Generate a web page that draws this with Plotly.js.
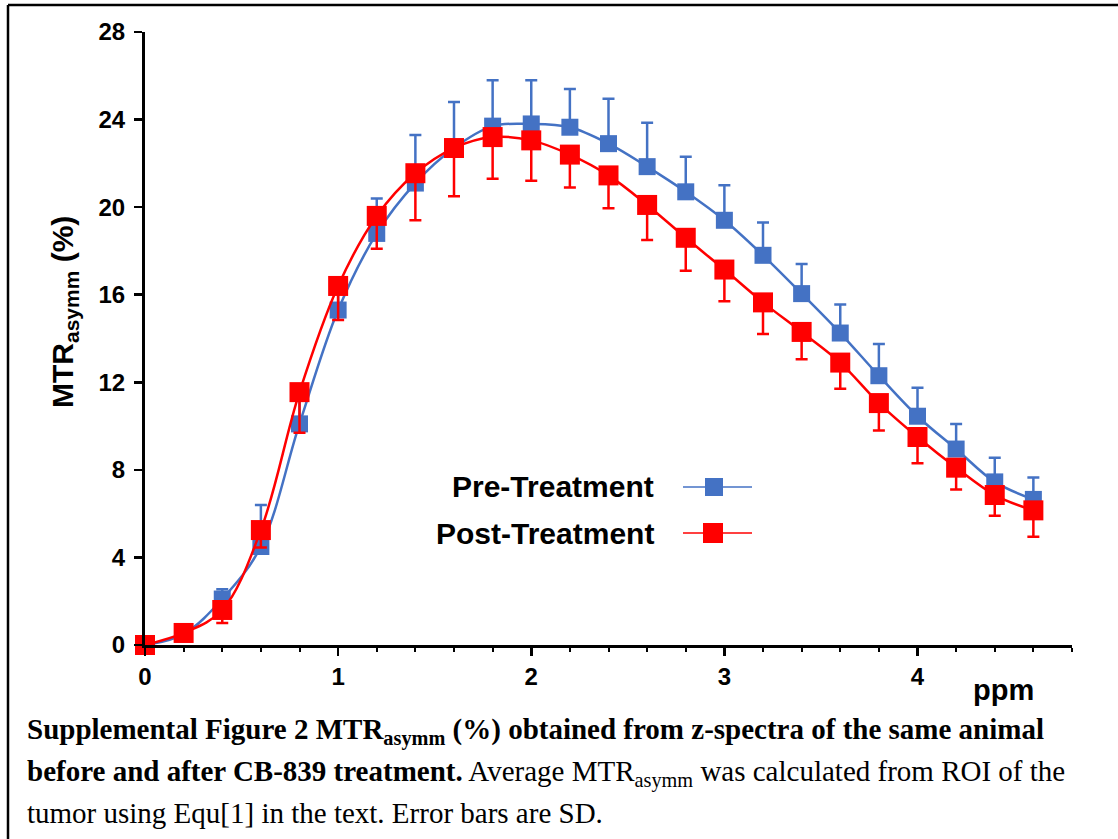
<!DOCTYPE html>
<html>
<head>
<meta charset="utf-8">
<script src="https://cdn.plot.ly/plotly-3.0.1.min.js"></script>
<style>
  html, body { margin: 0; padding: 0; background: #fff; }
  #chart { width: 1118px; height: 839px; }
</style>
</head>
<body>
<div id="chart"></div>
<script>
// ---- data ----
const ppm = [0, 0.2, 0.4, 0.6, 0.8, 1.0, 1.2, 1.4, 1.6, 1.8, 2.0, 2.2, 2.4, 2.6, 2.8, 3.0, 3.2, 3.4, 3.6, 3.8, 4.0, 4.2, 4.4, 4.6];
const preTreatment = [0, 0.5, 2.1, 4.5, 10.1, 15.3, 18.8, 21.1, 22.7, 23.7, 23.8, 23.65, 22.9, 21.85, 20.7, 19.4, 17.8, 16.05, 14.25, 12.3, 10.45, 8.95, 7.45, 6.65];
const preSD = [0, 0.2, 0.45, 1.9, 1.2, 0.9, 1.6, 2.2, 2.1, 2.1, 2.0, 1.75, 2.05, 2.0, 1.6, 1.6, 1.5, 1.35, 1.3, 1.45, 1.3, 1.15, 1.1, 1.0];
const postTreatment = [0, 0.55, 1.6, 5.25, 11.55, 16.4, 19.6, 21.55, 22.7, 23.2, 23.05, 22.4, 21.45, 20.1, 18.6, 17.15, 15.65, 14.3, 12.9, 11.05, 9.5, 8.1, 6.85, 6.15];
const postSD = [0, 0.2, 0.6, 0.8, 1.85, 1.55, 1.5, 2.15, 2.2, 1.9, 1.85, 1.5, 1.5, 1.6, 1.5, 1.45, 1.45, 1.25, 1.2, 1.25, 1.2, 1.0, 0.95, 1.2];
const yTicks = [0, 4, 8, 12, 16, 20, 24, 28];
const xTicks = [0, 1, 2, 3, 4];
const seriesNames = ['Pre-Treatment', 'Post-Treatment'];
const captionLines = [
  '<b>Supplemental Figure 2 MTR<sub>asymm</sub> (%) obtained from z-spectra of the same animal</b>',
  '<b>before and after CB-839 treatment.</b> Average MTR<sub>asymm</sub> was calculated from ROI of the',
  'tumor using Equ[1] in the text. Error bars are SD.'
];

const BLUE = '#4472C4';
const RED = '#FF0000';
const zeros = ppm.map(() => 0);

// plot area in pixels
const W = 1118, H = 839;
const L = 145, R = 46, T = 32, B = 194;
const PW = W - L - R, PH = H - T - B;
const px = v => (v - L) / PW;          // pixel x -> paper
const py = v => (H - B - v) / PH;      // pixel y -> paper

const SANS = 'Liberation Sans, Arial, sans-serif';
const SERIF = 'Liberation Serif, Times New Roman, serif';

const traces = [
  {
    x: ppm, y: preTreatment, name: seriesNames[0], type: 'scatter', mode: 'lines+markers',
    line: { color: BLUE, width: 2.5, shape: 'spline', smoothing: 1 },
    marker: { symbol: 'square', size: 17, color: BLUE },
    error_y: { type: 'data', symmetric: false, array: preSD, arrayminus: zeros,
               color: BLUE, thickness: 2.5, width: 6 },
    cliponaxis: false, showlegend: false
  },
  {
    x: ppm, y: postTreatment, name: seriesNames[1], type: 'scatter', mode: 'lines+markers',
    line: { color: RED, width: 2.5, shape: 'spline', smoothing: 1 },
    marker: { symbol: 'square', size: 20, color: RED },
    error_y: { type: 'data', symmetric: false, array: zeros, arrayminus: postSD,
               color: RED, thickness: 2.5, width: 6 },
    cliponaxis: false, showlegend: false
  }
];

const tickFont = { family: SANS, size: 24, color: '#000', weight: 'bold' };

const annotations = [
  // y-axis title
  { xref: 'paper', yref: 'paper', x: px(64), y: py(312), xanchor: 'center', yanchor: 'middle',
    text: '<b>MTR<sub>asymm</sub> (%)</b>', textangle: -90, showarrow: false,
    font: { family: SANS, size: 30, color: '#000' } },
  // x-axis unit
  { xref: 'paper', yref: 'paper', x: px(1003), y: py(690), xanchor: 'center', yanchor: 'middle',
    text: '<b>ppm</b>', showarrow: false,
    font: { family: SANS, size: 29, color: '#000' } },
  // legend labels
  { xref: 'paper', yref: 'paper', x: px(656), y: py(487), xanchor: 'right', yanchor: 'middle',
    text: '<b>' + seriesNames[0] + '</b>', showarrow: false,
    font: { family: SANS, size: 30, color: '#000' } },
  { xref: 'paper', yref: 'paper', x: px(656), y: py(533), xanchor: 'right', yanchor: 'middle',
    text: '<b>' + seriesNames[1] + '</b>', showarrow: false,
    font: { family: SANS, size: 30, color: '#000' } }
];
const capY = [731, 773, 813];
captionLines.forEach((t, i) => {
  annotations.push({ xref: 'paper', yref: 'paper', x: px(25), y: py(capY[i]), xanchor: 'left', yanchor: 'middle',
    text: t, showarrow: false, align: 'left',
    font: { family: SERIF, size: 29, color: '#000' } });
});

const shapes = [
  // figure frame (top and left)
  { type: 'line', xref: 'paper', yref: 'paper', x0: px(8), x1: px(1118), y0: py(5), y1: py(5), line: { color: '#000', width: 2.5 } },
  { type: 'line', xref: 'paper', yref: 'paper', x0: px(8), x1: px(8), y0: py(5), y1: py(839), line: { color: '#000', width: 2.5 } },
  // legend keys
  { type: 'line', xref: 'paper', yref: 'paper', x0: px(683), x1: px(752), y0: py(487), y1: py(487), line: { color: BLUE, width: 1.5 } },
  { type: 'rect', xref: 'paper', yref: 'paper', x0: px(705), x1: px(723), y0: py(496), y1: py(478), fillcolor: BLUE, line: { width: 0 } },
  { type: 'line', xref: 'paper', yref: 'paper', x0: px(683), x1: px(752), y0: py(533), y1: py(533), line: { color: RED, width: 1.5 } },
  { type: 'rect', xref: 'paper', yref: 'paper', x0: px(703), x1: px(723), y0: py(543), y1: py(523), fillcolor: RED, line: { width: 0 } }
];

const layout = {
  width: W, height: H,
  margin: { l: L, r: R, t: T, b: B, pad: 0 },
  paper_bgcolor: '#fff', plot_bgcolor: '#fff',
  showlegend: false,
  xaxis: {
    range: [0, 4.8], tickvals: xTicks, ticktext: xTicks.map(String),
    showline: true, linecolor: '#000', linewidth: 3, mirror: false,
    ticks: 'outside', ticklen: 8, tickwidth: 2.5, tickcolor: '#000',
    minor: { dtick: 0.2, tick0: 0, ticks: 'outside', ticklen: 4, tickwidth: 2, tickcolor: '#000', showgrid: false },
    showgrid: false, zeroline: false, ticklabelstandoff: 0,
    tickfont: tickFont, fixedrange: true
  },
  yaxis: {
    range: [0, 28], tickvals: yTicks, ticktext: yTicks.map(String),
    showline: true, linecolor: '#000', linewidth: 3, mirror: false,
    ticks: 'outside', ticklen: 8, tickwidth: 2.5, tickcolor: '#000',
    showgrid: false, zeroline: false, ticklabelstandoff: 4,
    tickfont: tickFont, fixedrange: true
  },
  annotations: annotations,
  shapes: shapes
};

Plotly.newPlot('chart', traces, layout, { displayModeBar: false, staticPlot: true });
</script>
</body>
</html>
